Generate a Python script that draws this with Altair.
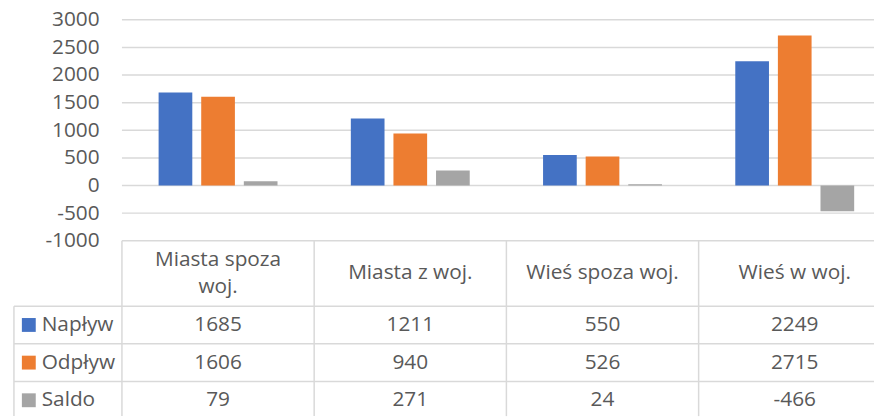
import altair as alt
import pandas as pd

categories = ["Miasta spoza woj.", "Miasta z woj.", "Wieś spoza woj.", "Wieś w woj."]
header_labels = ["Miasta spoza\nwoj.", "Miasta z woj.", "Wieś spoza woj.", "Wieś w woj."]
series = ["Napływ", "Odpływ", "Saldo"]
naplyw = [1685, 1211, 550, 2249]
odplyw = [1606, 940, 526, 2715]
saldo = [79, 271, 24, -466]
y_ticks = [-1000, -500, 0, 500, 1000, 1500, 2000, 2500, 3000]
colors = ["#4472C4", "#ED7D31", "#A5A5A5"]

FONT = "Open Sans"
FS = 21
TXT = "#595959"
LINE = "#d9d9d9"

W, H = 759, 400
COL_W = 194
X_END = COL_W * 4
PLOT_H = 223
HEAD_H = 66
ROW_H = 38
LEG_W = 109
LINE_H = 27

rows = []
for s, vals in zip(series, [naplyw, odplyw, saldo]):
    for c, v in zip(categories, vals):
        rows.append({"category": c, "series": s, "value": v})
df = pd.DataFrame(rows)
df["label"] = df["value"].astype(str)
head_df = pd.DataFrame({"category": categories, "label": header_labels, "row": ["h"] * 4})
head_df["multi"] = head_df["label"].str.contains("\n")
tick_df = pd.DataFrame({"v": y_ticks})
ser_df = pd.DataFrame({"series": series})
cat_df = pd.DataFrame({"category": categories})

xs = alt.Scale(domain=categories, range=[0, X_END], paddingInner=0, paddingOuter=0)
ys = alt.Scale(domain=[-1000, 3000], range=[PLOT_H, 0], nice=False, zero=False)
rows_scale = alt.Scale(domain=series, range=[PLOT_H + HEAD_H, PLOT_H + HEAD_H + 3 * ROW_H], paddingInner=0, paddingOuter=0)
head_scale = alt.Scale(domain=["h"], range=[PLOT_H, PLOT_H + HEAD_H], paddingInner=0, paddingOuter=0)
col_scale = alt.Scale(domain=series, range=colors)

grid = alt.Chart(tick_df).mark_rule(color=LINE, strokeWidth=1.5).encode(
    y=alt.Y("v:Q", scale=ys, axis=alt.Axis(
        values=y_ticks, grid=False, domain=False, ticks=False, title=None,
        labelExpr="'' + datum.value",
        labelFont=FONT, labelFontSize=FS, labelColor=TXT, labelPadding=23,
    ))
)

bars = alt.Chart(df).mark_bar().encode(
    x=alt.X("category:N", scale=xs, sort=categories, axis=None),
    xOffset=alt.XOffset("series:N", sort=series, scale=alt.Scale(paddingInner=0.2093, paddingOuter=0.8605)),
    y=alt.Y("value:Q", scale=ys, axis=None),
    color=alt.Color("series:N", scale=col_scale, legend=None),
)

header_single = alt.Chart(head_df).transform_filter("!datum.multi").mark_text(
    font=FONT, fontSize=FS, color=TXT, baseline="middle"
).encode(
    x=alt.X("category:N", scale=xs, sort=categories, axis=None),
    y=alt.Y("row:N", scale=head_scale, axis=None),
    text="label:N",
)

header_multi = alt.Chart(head_df).transform_filter("datum.multi").mark_text(
    font=FONT, fontSize=FS, color=TXT, lineBreak="\n", lineHeight=LINE_H, baseline="middle", dy=-LINE_H / 2
).encode(
    x=alt.X("category:N", scale=xs, sort=categories, axis=None),
    y=alt.Y("row:N", scale=head_scale, axis=None),
    text="label:N",
)

body = alt.Chart(df).mark_text(font=FONT, fontSize=FS, color=TXT, baseline="middle").encode(
    x=alt.X("category:N", scale=xs, sort=categories, axis=None),
    y=alt.Y("series:N", scale=rows_scale, sort=series, axis=None),
    text="label:N",
)

leg_sq = alt.Chart(ser_df).mark_square(size=196, opacity=1).encode(
    x=alt.value(-94),
    y=alt.Y("series:N", scale=rows_scale, sort=series, axis=None),
    color=alt.Color("series:N", scale=col_scale, legend=None),
)

leg_txt = alt.Chart(ser_df).mark_text(font=FONT, fontSize=FS, color=TXT, align="left", baseline="middle").encode(
    x=alt.value(-81),
    y=alt.Y("series:N", scale=rows_scale, sort=series, axis=None),
    text="series:N",
)

hlines = alt.Chart(ser_df).mark_rule(color=LINE, strokeWidth=1.5).encode(
    y=alt.Y("series:N", scale=rows_scale, sort=series, axis=None, bandPosition=0),
    x=alt.value(-LEG_W),
    x2=alt.value(X_END),
)

vlines = alt.Chart(cat_df).mark_rule(color=LINE, strokeWidth=1.5).encode(
    x=alt.X("category:N", scale=xs, sort=categories, axis=None, bandPosition=0),
    y=alt.value(PLOT_H),
    y2=alt.value(H),
)

leg_vline = alt.Chart(ser_df.head(1)).mark_rule(color=LINE, strokeWidth=1.5).encode(
    x=alt.value(-LEG_W),
    y=alt.Y("series:N", scale=rows_scale, sort=series, axis=None, bandPosition=0),
    y2=alt.value(H),
)

chart = alt.layer(
    grid, bars, hlines, vlines, leg_vline, header_single, header_multi, body, leg_sq, leg_txt
).resolve_scale(y="independent").properties(
    width=W, height=H,
    autosize=alt.AutoSizeParams(type="none"),
    padding={"left": 115, "top": 10, "right": 0, "bottom": 0},
    background="white",
).configure_view(stroke=None)

chart.save("out.html", embed_options={"renderer": "svg", "actions": False})
